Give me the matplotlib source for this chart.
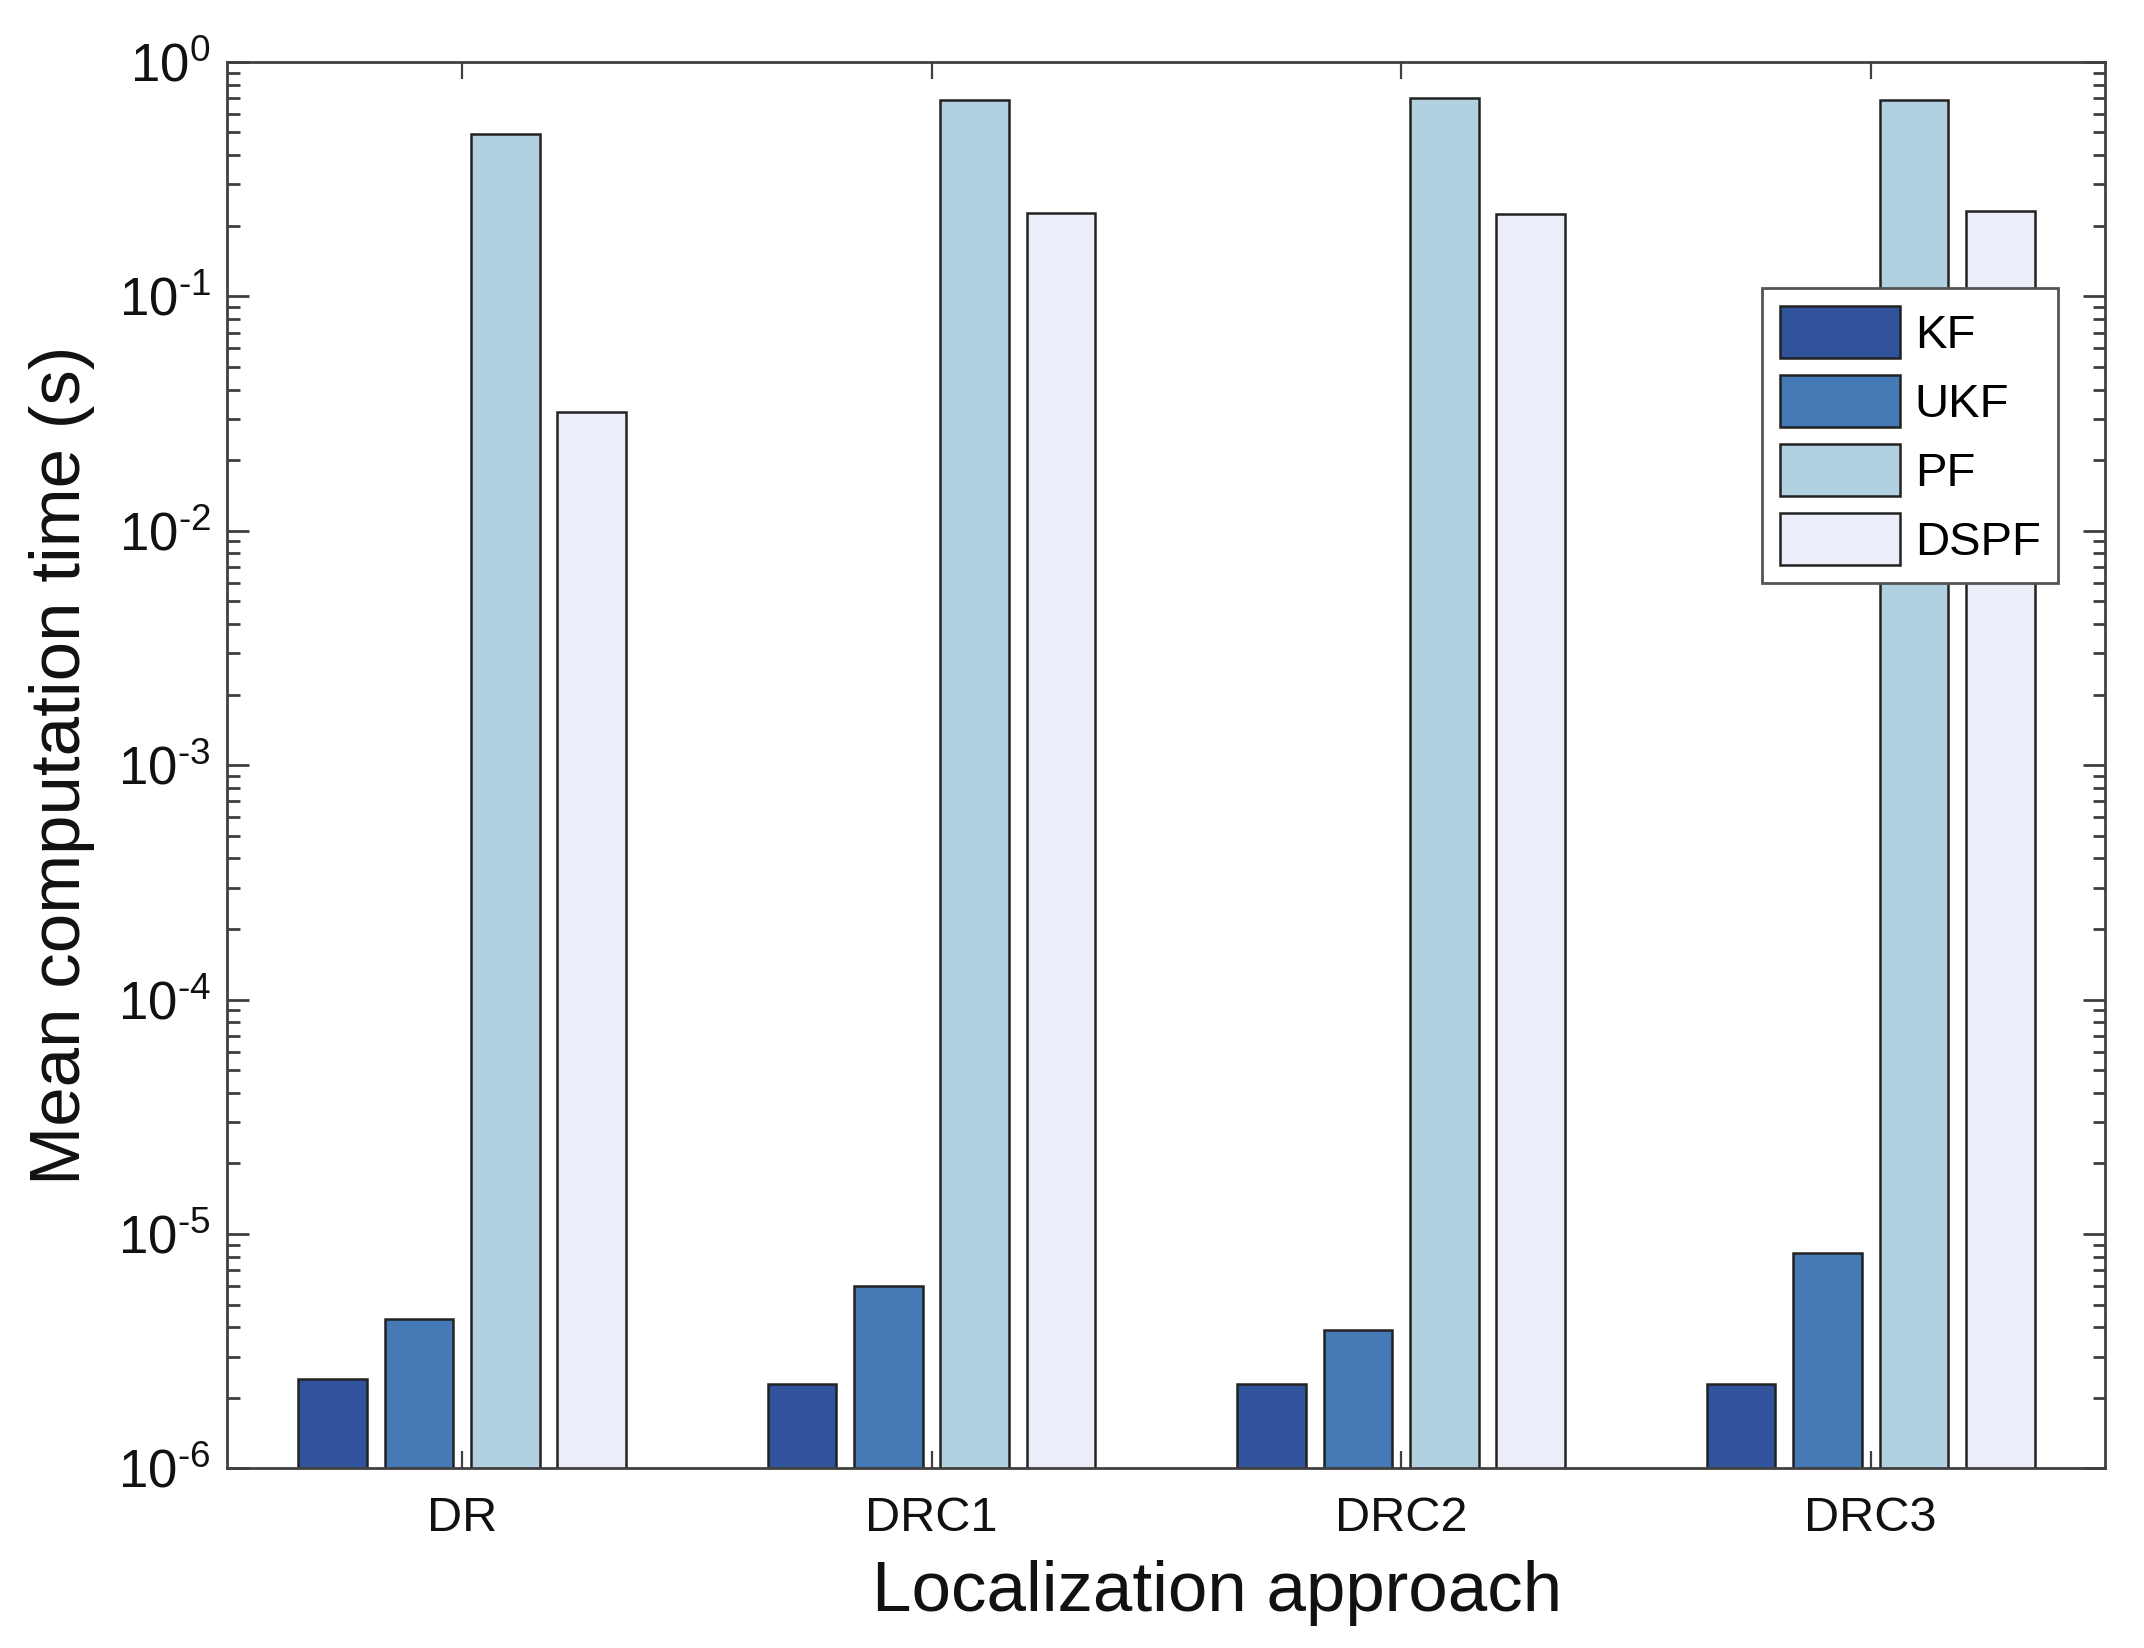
import matplotlib
matplotlib.use('Agg')
import matplotlib.pyplot as plt
import numpy as np

plt.rcParams['font.family'] = ['Liberation Sans', 'DejaVu Sans']
plt.rcParams['mathtext.fontset'] = 'custom'
plt.rcParams['mathtext.rm'] = 'Liberation Sans'
plt.rcParams['mathtext.it'] = 'Liberation Sans'

# data
approaches = ['DR', 'DRC1', 'DRC2', 'DRC3']
methods = ['KF', 'UKF', 'PF', 'DSPF']
kf = [2.4e-6, 2.28e-6, 2.28e-6, 2.28e-6]
ukf = [4.35e-6, 6.0e-6, 3.9e-6, 8.3e-6]
pf = [0.494, 0.69, 0.70, 0.69]
dspf = [0.032, 0.226, 0.224, 0.23]
colors = ['#30539c', '#467ab6', '#b1d0e0', '#ebedf8']

series = [kf, ukf, pf, dspf]
x = np.arange(1, len(approaches) + 1)
offsets = [-0.276, -0.092, 0.092, 0.276]
width = 0.146

fig = plt.figure(figsize=(10.72, 8.24), dpi=200)
ax = fig.add_axes([0.106, 0.109, 0.876, 0.8535])
ax.set_yscale('log')

for vals, off, c, name in zip(series, offsets, colors, methods):
    ax.bar(x + off, vals, width, color=c, edgecolor='#222222',
           linewidth=0.9, label=name, zorder=2)

ax.set_ylim(1e-6, 1)
ax.set_xlim(0.5, 4.5)
ax.set_xticks(x)
ax.set_xticklabels(approaches)
yt = [1e-6, 1e-5, 1e-4, 1e-3, 1e-2, 1e-1, 1]
ax.set_yticks(yt)
ax.set_yticklabels([r'$10^{\text{-}%d}$' % k for k in range(6, 0, -1)] + ['$10^{0}$'])

for s in ax.spines.values():
    s.set_color('#404040')
    s.set_linewidth(1.0)
ax.tick_params(axis='both', which='both', direction='in', top=True, right=True,
               color='#404040', labelsize=17.5, labelcolor='#111111')
ax.tick_params(axis='y', which='major', length=8, width=1.0, pad=6, labelsize=19)
ax.tick_params(axis='y', which='minor', length=4.5, width=1.0)
ax.tick_params(axis='x', which='major', length=6, width=0.8, pad=10)

ax.set_xlabel('Localization approach', fontsize=25.5, color='#111111', labelpad=6)
ax.xaxis.set_label_coords(0.527, -0.065)
ax.set_ylabel('Mean computation time (s)', fontsize=25.5, color='#111111', labelpad=8)

leg = ax.legend(loc='upper right', bbox_to_anchor=(0.975, 0.839), fontsize=17,
                frameon=True, fancybox=False, framealpha=1, edgecolor='#555555',
                handlelength=2.55, handleheight=1.3, handletextpad=0.3,
                labelspacing=0.37, borderpad=0.38, borderaxespad=0)
leg.get_frame().set_linewidth(1.0)
leg.set_zorder(5)

fig.savefig('out.png', dpi=200, facecolor='white')
